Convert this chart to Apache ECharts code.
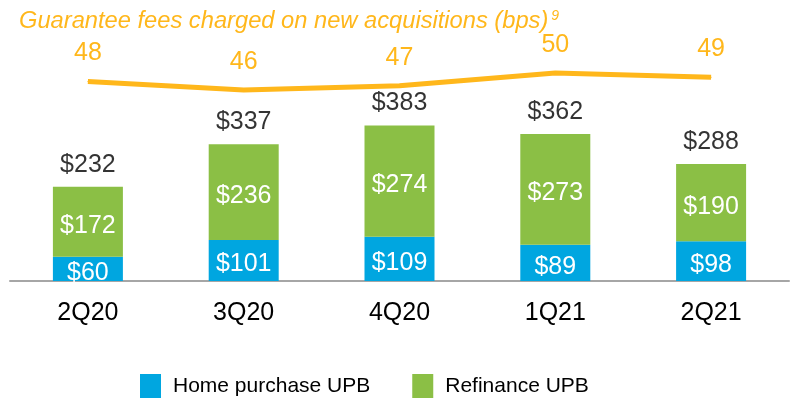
<!DOCTYPE html>
<html>
<head>
<meta charset="utf-8">
<script src="https://cdn.jsdelivr.net/npm/echarts@6/dist/echarts.min.js"></script>
<style>
  html, body { margin: 0; padding: 0; background: #fff; }
  #acqChart { width: 794px; height: 401px; }
</style>
</head>
<body>
<div id="acqChart"></div>
<script>
// chart data
var quarters = ['2Q20', '3Q20', '4Q20', '1Q21', '2Q21'];
var homePurchaseUPB = [60, 101, 109, 89, 98];
var refinanceUPB = [172, 236, 274, 273, 190];
var totalUPB = [232, 337, 383, 362, 288];
var guaranteeFees = [48, 46, 47, 50, 49];

var FONT = "'Liberation Sans', Arial, sans-serif";
var ORANGE = '#FFB71B';
var BLUE = '#00A6E0';
var GREEN = '#8BBF45';

var dollar = function (p) { return '$' + p.value; };

var acqChart = echarts.init(document.getElementById('acqChart'), null, { renderer: 'canvas' });

var acqOption = {
  animation: false,
  textStyle: { fontFamily: FONT },
  title: {
    left: 14,
    top: 4,
    text: 'Guarantee fees charged on new acquisitions (bps){sup|9}',
    textStyle: {
      fontFamily: FONT,
      fontSize: 23.7,
      fontStyle: 'italic',
      fontWeight: 'normal',
      color: ORANGE,
      rich: {
        sup: { fontFamily: FONT, fontSize: 14, fontStyle: 'italic', color: ORANGE, verticalAlign: 'top', padding: [0, 0, 0, 3] }
      }
    }
  },
  legend: {
    left: 135,
    top: 369,
    data: ['Home purchase UPB', 'Refinance UPB'],
    icon: 'rect',
    itemWidth: 21,
    itemHeight: 24,
    itemGap: 42,
    textStyle: { fontFamily: FONT, fontSize: 21, color: '#000', padding: [0, 0, 0, 7] }
  },
  grid: { left: 10, right: 5, top: 78, bottom: 120, containLabel: false, outerBoundsMode: 'none' },
  xAxis: {
    type: 'category',
    data: quarters,
    axisLine: { lineStyle: { color: '#A6A6A6', width: 2 } },
    axisTick: { show: false },
    axisLabel: { color: '#000', fontSize: 25, fontFamily: FONT, margin: 20 }
  },
  yAxis: [
    { type: 'value', min: 0, max: 500, show: false },
    { type: 'value', min: 1, max: 48.8, show: false }
  ],
  series: [
    {
      name: 'Home purchase UPB',
      type: 'bar',
      stack: 'upb',
      barWidth: 70,
      itemStyle: { color: BLUE },
      label: { show: true, position: 'inside', offset: [0, 4], color: '#fff', fontSize: 25, fontFamily: FONT, formatter: dollar },
      data: homePurchaseUPB
    },
    {
      name: 'Refinance UPB',
      type: 'bar',
      stack: 'upb',
      barWidth: 70,
      itemStyle: { color: GREEN },
      label: { show: true, position: 'inside', offset: [0, 4], color: '#fff', fontSize: 25, fontFamily: FONT, formatter: dollar },
      data: refinanceUPB
    },
    {
      // totals above the bars
      name: 'Total',
      type: 'scatter',
      symbolSize: 0,
      silent: true,
      label: { show: true, position: 'top', distance: 9.5, color: '#000', fontSize: 25, fontFamily: FONT, formatter: dollar },
      data: totalUPB
    },
    {
      name: 'Guarantee fees',
      type: 'line',
      yAxisIndex: 1,
      clip: false,
      symbol: 'circle',
      symbolSize: 1,
      itemStyle: { color: ORANGE },
      lineStyle: { color: ORANGE, width: 5 },
      label: { show: true, position: 'top', distance: 15, color: ORANGE, fontSize: 25, fontFamily: FONT },
      data: guaranteeFees
    }
  ]
};

acqChart.setOption(acqOption);
</script>
</body>
</html>
